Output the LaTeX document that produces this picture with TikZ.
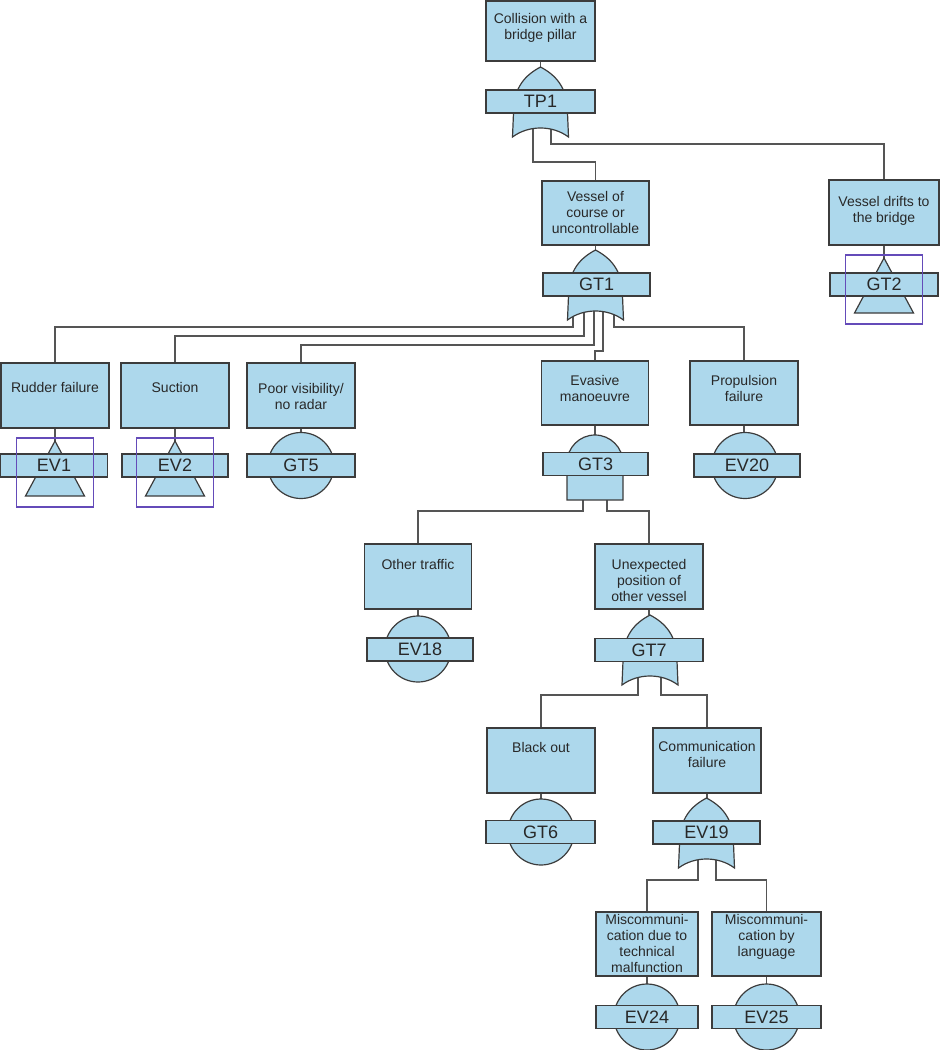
\documentclass[tikz,border=0pt]{standalone}
\usepackage{fontspec}
\setmainfont{Liberation Sans}
\definecolor{evblue}{RGB}{173,216,236}
\definecolor{edgegray}{RGB}{60,60,60}
\definecolor{wiregray}{RGB}{85,85,85}
\definecolor{txtgray}{RGB}{40,40,40}
\definecolor{framepurple}{RGB}{100,75,185}
\tikzset{
  evbox/.style={draw=edgegray, fill=evblue, line width=1.2pt, rectangle, inner sep=0pt},
  desc/.style={text=txtgray, font=\fontsize{14}{16}\selectfont, align=center, anchor=north, inner sep=0pt},
  tag/.style={draw=edgegray, fill=evblue, line width=1.2pt, rectangle, minimum height=23, inner sep=0pt, text=txtgray, font=\fontsize{18}{20}\selectfont},
  gate/.style={draw=edgegray, fill=evblue, line width=1.2pt},
  wire/.style={draw=wiregray, line width=1.2pt},
  tframe/.style={draw=framepurple, line width=1.4pt},
}
\newcommand{\orgatedraw}[2]{%
  \draw[gate] ({#1-28},{#2+70}) -- ({#1-27},{#2+46})
    .. controls ({#1-27},{#2+20}) and ({#1-15},{#2+8}) .. ({#1},{#2})
    .. controls ({#1+15},{#2+8}) and ({#1+27},{#2+20}) .. ({#1+27},{#2+46})
    -- ({#1+28},{#2+70})
    .. controls ({#1+12},{#2+58}) and ({#1-12},{#2+58}) .. ({#1-28},{#2+70}) -- cycle;}
\newcommand{\andgatedraw}[2]{%
  \draw[gate] ({#1-28},{#2+65}) -- ({#1-28},{#2+28})
    .. controls ({#1-28},{#2+12.54}) and ({#1-15.46},{#2}) .. ({#1},{#2})
    .. controls ({#1+15.46},{#2}) and ({#1+28},{#2+12.54}) .. ({#1+28},{#2+28})
    -- ({#1+28},{#2+65}) -- cycle;}
\newcommand{\transferdraw}[2]{%
  \draw[gate] ({#1},{#2}) -- ({#1+29.5},{#2+55}) -- ({#1-29.5},{#2+55}) -- cycle;}
\newcommand{\transferframe}[2]{%
  \draw[tframe] ({#1-38.5},{#2-3}) rectangle ({#1+38.5},{#2+66});}
\begin{document}
\begin{tikzpicture}[x=1pt,y=-1pt]
\useasboundingbox (0,0) rectangle (940,1050);

% ---------- boxes ----------
\node[evbox, minimum width=109, minimum height=60] (top) at (540.5,31) {};
\node[evbox, minimum width=107, minimum height=64] (vessel) at (595.5,213) {};
\node[evbox, minimum width=110, minimum height=65] (drifts) at (884,212.5) {};
\node[evbox, minimum width=108, minimum height=65] (rudder) at (55,395.5) {};
\node[evbox, minimum width=108, minimum height=65] (suction) at (175,395.5) {};
\node[evbox, minimum width=108, minimum height=65] (poor) at (301,395.5) {};
\node[evbox, minimum width=107, minimum height=64] (evasive) at (595,393) {};
\node[evbox, minimum width=108, minimum height=64] (propulsion) at (744,393) {};
\node[evbox, minimum width=107, minimum height=65] (other) at (418,576.5) {};
\node[evbox, minimum width=108, minimum height=65] (unexpected) at (649,576.5) {};
\node[evbox, minimum width=108, minimum height=65] (blackout) at (541,760.5) {};
\node[evbox, minimum width=108, minimum height=65] (comm) at (707,760.5) {};
\node[evbox, minimum width=102, minimum height=64] (misa) at (647,944) {};
\node[evbox, minimum width=109, minimum height=64] (misb) at (766.5,944) {};

% ---------- connector coordinates ----------
\coordinate (tp1top) at (540.5,67);
\coordinate (tp1l) at (533,120);
\coordinate (tp1r) at (551,120);
\coordinate (gt1top) at (595.5,250);
\coordinate (g1a) at (573,300);
\coordinate (g1b) at (584,300);
\coordinate (g1c) at (594,300);
\coordinate (g1d) at (603,300);
\coordinate (g1e) at (614,300);
\coordinate (gt2top) at (884,258);
\coordinate (ev1top) at (55,441);
\coordinate (ev2top) at (175,441);
\coordinate (gt5top) at (301,432);
\coordinate (gt3top) at (595,435);
\coordinate (g3l) at (583,490);
\coordinate (g3r) at (607,490);
\coordinate (ev20top) at (744,432);
\coordinate (ev18top) at (418,616);
\coordinate (gt7top) at (649,615);
\coordinate (g7l) at (638,670);
\coordinate (g7r) at (661,670);
\coordinate (gt6top) at (541,799);
\coordinate (ev19top) at (707,798);
\coordinate (g19l) at (698,850);
\coordinate (g19r) at (716,850);
\coordinate (ev24top) at (647,984);
\coordinate (ev25top) at (766.5,984);

% ---------- connectors ----------
\draw[wire] (top.south) -- (tp1top);
\draw[wire] (tp1l) -- ++(0,42) -| (vessel.north);
\draw[wire] (tp1r) -- ++(0,24) -| (drifts.north);
\draw[wire] (vessel.south) -- (gt1top);
\draw[wire] (drifts.south) -- (gt2top);
\draw[wire] (g1a) -- ++(0,27) -| (rudder.north);
\draw[wire] (g1b) -- ++(0,36) -| (suction.north);
\draw[wire] (g1c) -- ++(0,45) -| (poor.north);
\draw[wire] (g1d) -- ++(0,51) -| (evasive.north);
\draw[wire] (g1e) -- ++(0,27) -| (propulsion.north);
\draw[wire] (rudder.south) -- (ev1top);
\draw[wire] (suction.south) -- (ev2top);
\draw[wire] (poor.south) -- (gt5top);
\draw[wire] (evasive.south) -- (gt3top);
\draw[wire] (propulsion.south) -- (ev20top);
\draw[wire] (g3l) -- ++(0,21) -| (other.north);
\draw[wire] (g3r) -- ++(0,21) -| (unexpected.north);
\draw[wire] (other.south) -- (ev18top);
\draw[wire] (unexpected.south) -- (gt7top);
\draw[wire] (g7l) -- ++(0,25) -| (blackout.north);
\draw[wire] (g7r) -- ++(0,25) -| (comm.north);
\draw[wire] (blackout.south) -- (gt6top);
\draw[wire] (comm.south) -- (ev19top);
\draw[wire] (g19l) -- ++(0,30) -| (misa.north);
\draw[wire] (g19r) -- ++(0,30) -| (misb.north);
\draw[wire] (misa.south) -- (ev24top);
\draw[wire] (misb.south) -- (ev25top);

% ---------- gate symbols ----------
\orgatedraw{540.5}{67}
\orgatedraw{595.5}{250}
\orgatedraw{650}{615}
\orgatedraw{706.5}{798}
\andgatedraw{595}{435}
\transferdraw{884}{258}
\transferdraw{55}{441}
\transferdraw{175}{441}
\draw[gate] (301,465.5) circle[radius=33];
\draw[gate] (745,465.5) circle[radius=33];
\draw[gate] (418,649) circle[radius=33];
\draw[gate] (541,832) circle[radius=33];
\draw[gate] (647,1017) circle[radius=33];
\draw[gate] (766.5,1017) circle[radius=33];

% ---------- gate tags ----------
\node[tag, minimum width=109] (tp1) at (540.5,101.5) {TP1};
\node[tag, minimum width=107] (gt1) at (596.5,284.5) {GT1};
\node[tag, minimum width=108] (gt2) at (884,284.5) {GT2};
\node[tag, minimum width=107] (ev1) at (54,465.5) {EV1};
\node[tag, minimum width=106] (ev2) at (175,465.5) {EV2};
\node[tag, minimum width=108] (gt5) at (301,465.5) {GT5};
\node[tag, minimum width=105] (gt3) at (595.5,464) {GT3};
\node[tag, minimum width=106] (ev20) at (747,465.5) {EV20};
\node[tag, minimum width=106] (ev18) at (420,649.5) {EV18};
\node[tag, minimum width=108] (gt7) at (649,650) {GT7};
\node[tag, minimum width=109] (gt6) at (540.5,832) {GT6};
\node[tag, minimum width=107] (ev19) at (706.5,832.5) {EV19};
\node[tag, minimum width=102] (ev24) at (647,1017) {EV24};
\node[tag, minimum width=109] (ev25) at (766.5,1017) {EV25};

% ---------- transfer frames ----------
\transferframe{884}{258}
\transferframe{55}{441}
\transferframe{175}{441}

% ---------- texts ----------
\node[desc] (ttop) at (540.5,12.3) {\strut Collision with a\\bridge pillar};
\node[desc] (tvessel) at (595.5,190.3) {\strut Vessel of\\course or\\uncontrollable};
\node[desc] (tdrifts) at (884,195.3) {\strut Vessel drifts to\\the bridge};
\node[desc] (trudder) at (55,381.3) {\strut Rudder failure};
\node[desc] (tsuction) at (175,381.3) {\strut Suction};
\node[desc] (tpoor) at (301,382.3) {\strut Poor visibility/\\no radar};
\node[desc] (tevasive) at (595,374.3) {\strut Evasive\\manoeuvre};
\node[desc] (tprop) at (744,374.3) {\strut Propulsion\\failure};
\node[desc] (tother) at (418,558.3) {\strut Other traffic};
\node[desc] (tunexp) at (649,558.3) {\strut Unexpected\\position of\\other vessel};
\node[desc] (tblack) at (541,741.3) {\strut Black out};
\node[desc] (tcomm) at (707,740.3) {\strut Communication\\failure};
\node[desc] (tmisa) at (647,913.3) {\strut Miscommuni-\\cation due to\\technical\\malfunction};
\node[desc] (tmisb) at (766.5,913.3) {\strut Miscommuni-\\cation by\\language};
\end{tikzpicture}
\end{document}
